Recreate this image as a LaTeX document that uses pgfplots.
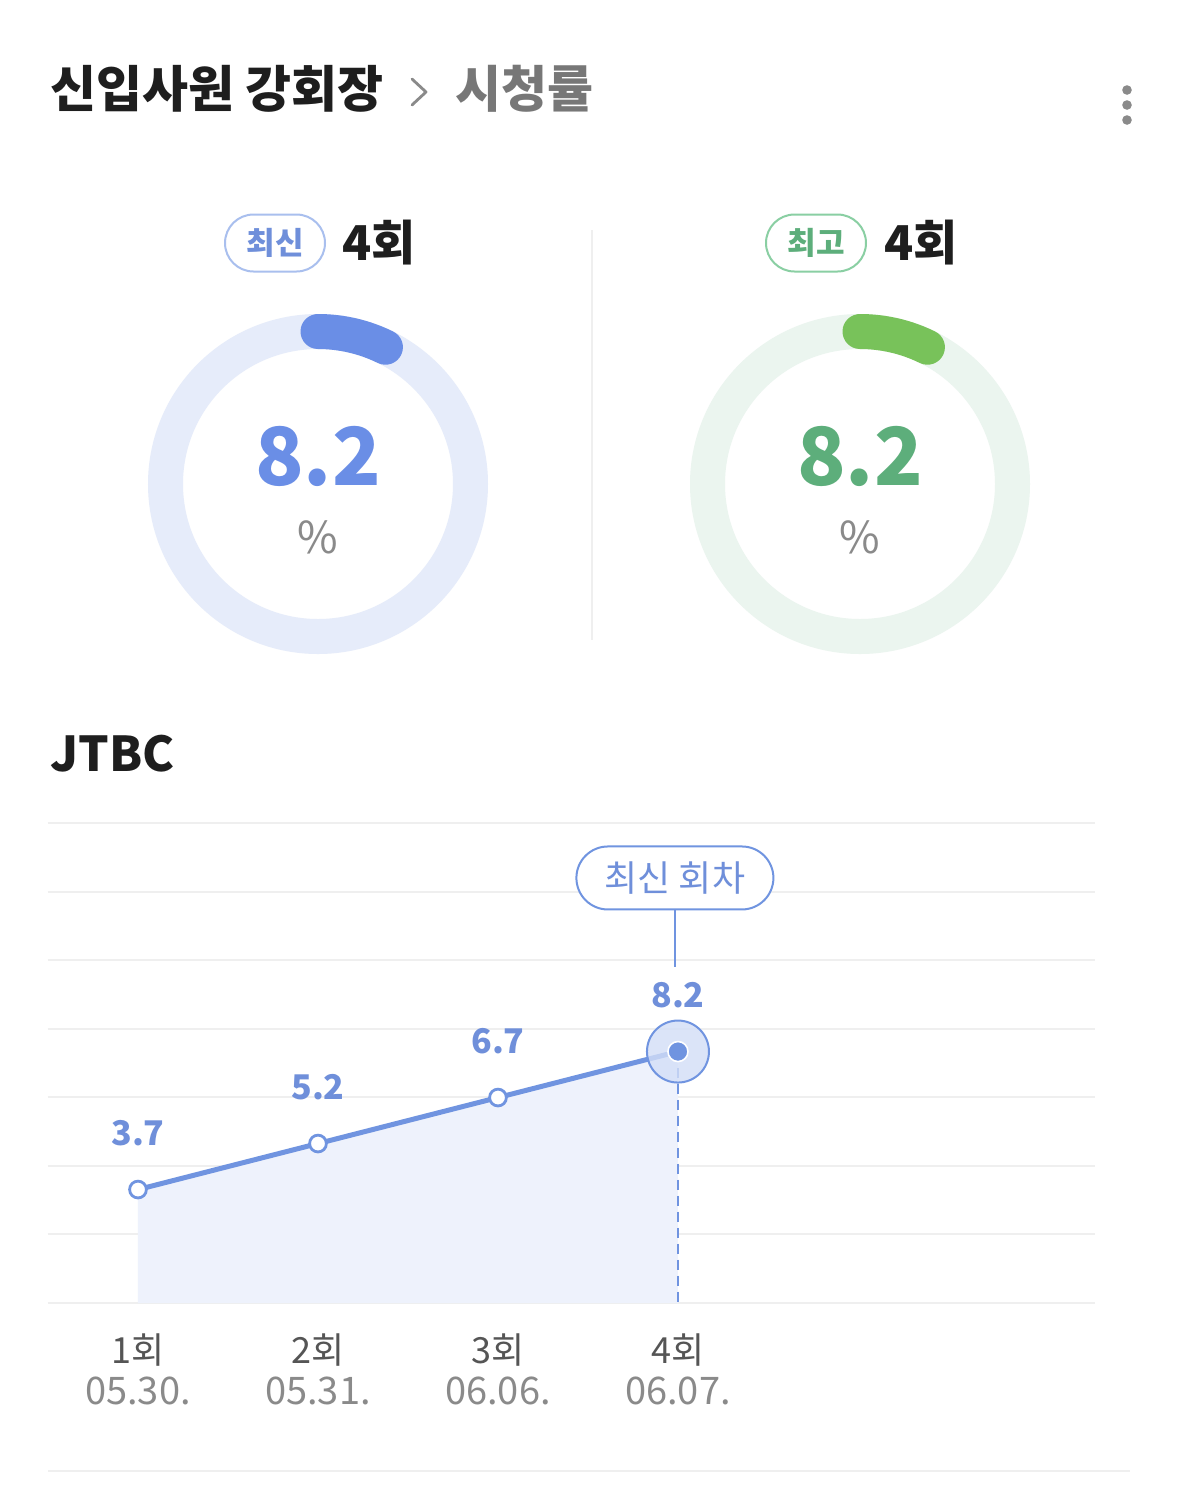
\documentclass[border=0pt]{standalone}
\usepackage{pgfplots}
\pgfplotsset{compat=1.18}
\usepackage{fontspec}
\setmainfont{Noto Sans CJK KR}
\definecolor{titleblack}{HTML}{1E1E1E}
\definecolor{subgray}{HTML}{777777}
\definecolor{dotgray}{HTML}{8A8A8A}
\definecolor{lineblue}{HTML}{7094E0}
\definecolor{valueblue}{HTML}{6F8FDA}
\definecolor{fillblue}{HTML}{EEF2FC}
\definecolor{haloblue}{HTML}{D3DEF7}
\definecolor{ringblue}{HTML}{E6ECFA}
\definecolor{arcblue}{HTML}{6A8EE6}
\definecolor{pillblue}{HTML}{A9BFEE}
\definecolor{ringgreen}{HTML}{EBF5EF}
\definecolor{arcgreen}{HTML}{78C25A}
\definecolor{textgreen}{HTML}{5DAE7B}
\definecolor{pillgreen}{HTML}{8ACFA3}
\definecolor{gridc}{HTML}{EFEFEF}
\definecolor{tickdark}{HTML}{555555}
\definecolor{tickgray}{HTML}{8A8A8A}
\def\latest{8.2}
\def\best{8.2}
\begin{document}
\begin{tikzpicture}
\begin{scope}[x=0.5pt,y=-0.5pt]
\fill[white] (0,0) rectangle (1179,1506);
% title
\node[anchor=west, inner sep=0, text=titleblack, font=\fontsize{25}{30}\selectfont\bfseries] at (50,89) {신입사원 강회장};
\draw[dotgray, line width=1.4pt, line cap=round, line join=round] (412,79) -- (426,92) -- (412,105);
\node[anchor=west, inner sep=0, text=subgray, font=\fontsize{25}{30}\selectfont\bfseries] at (455,89) {시청률};
\foreach \yy in {90,105,120} \fill[dotgray] (1127,\yy) circle (2.4pt);
% left gauge
\node[draw=pillblue, line width=1pt, rounded corners=14.25pt, minimum width=50pt, minimum height=28.5pt, inner sep=0, text=valueblue, font=\fontsize{15.5}{18}\selectfont\bfseries] at (275,243) {최신};
\node[anchor=west, inner sep=0, text=titleblack, font=\fontsize{24}{28}\selectfont\bfseries] at (342,243) {4회};
\draw[ringblue, line width=17.5pt] (318,484) circle (76.25pt);
\draw[arcblue, line width=17.5pt, line cap=round] (318,484) ++(90:76.25pt) arc[start angle=90, end angle={90-\latest*3.2}, radius=76.25pt];
\node[inner sep=0, text=arcblue, font=\fontsize{40}{46}\selectfont\bfseries] at (318,456) {8.2};
\node[inner sep=0, text=dotgray, font=\fontsize{22}{26}\selectfont] at (318,537) {\%};
% divider
\draw[gridc, line width=1pt] (592,230) -- (592,640);
% right gauge
\node[draw=pillgreen, line width=1pt, rounded corners=14.25pt, minimum width=50pt, minimum height=28.5pt, inner sep=0, text=textgreen, font=\fontsize{15.5}{18}\selectfont\bfseries] at (816,243) {최고};
\node[anchor=west, inner sep=0, text=titleblack, font=\fontsize{24}{28}\selectfont\bfseries] at (884,243) {4회};
\draw[ringgreen, line width=17.5pt] (860,484) circle (76.25pt);
\draw[arcgreen, line width=17.5pt, line cap=round] (860,484) ++(90:76.25pt) arc[start angle=90, end angle={90-\best*3.2}, radius=76.25pt];
\node[inner sep=0, text=textgreen, font=\fontsize{40}{46}\selectfont\bfseries] at (860,456) {8.2};
\node[inner sep=0, text=dotgray, font=\fontsize{22}{26}\selectfont] at (860,537) {\%};
% JTBC
\node[anchor=west, inner sep=0, text=titleblack, font=\fontsize{24}{28}\selectfont\bfseries] at (50,754) {JTBC};
% bottom rule
\draw[gridc, line width=1pt] (48,1471) -- (1130,1471);
\end{scope}
\begin{axis}[
  at={(24pt,-651.5pt)}, anchor=south west,
  scale only axis, width=523.5pt, height=240pt,
  xmin=0.5, xmax=6.317, ymin=0, ymax=15.652,
  ytick={0,2.236,4.472,6.708,8.944,11.18,13.416,15.652},
  yticklabels={},
  ymajorgrids, grid style={color=gridc, line width=1pt},
  axis line style={draw=none},
  major tick length=0pt,
  xtick={1,2,3,4},
  xticklabels={{\textcolor{tickdark}{1회}\\[-2pt]{\fontsize{19}{22}\selectfont\textcolor{tickgray}{05.30.}}},
               {\textcolor{tickdark}{2회}\\[-2pt]{\fontsize{19}{22}\selectfont\textcolor{tickgray}{05.31.}}},
               {\textcolor{tickdark}{3회}\\[-2pt]{\fontsize{19}{22}\selectfont\textcolor{tickgray}{06.06.}}},
               {\textcolor{tickdark}{4회}\\[-2pt]{\fontsize{19}{22}\selectfont\textcolor{tickgray}{06.07.}}}},
  xticklabel style={align=center, anchor=north, inner sep=0pt, yshift=-15pt, font=\fontsize{18}{22.5}\selectfont},
  clip=false,
]
\addplot[draw=none, fill=fillblue] coordinates {(1,3.7) (2,5.2) (3,6.7) (4,8.2)} \closedcycle;
\draw[lineblue, line width=1pt, dash pattern=on 5pt off 3pt] (axis cs:4,8.2) -- (axis cs:4,0);
\addplot[only marks, mark=*, mark size=15.5pt, mark options={fill=haloblue, fill opacity=0.8, draw=lineblue, line width=1pt}] coordinates {(4,8.2)};
\addplot[lineblue, line width=2.5pt, mark=*, mark size=4.2pt, mark options={fill=white, draw=lineblue, line width=1.4pt},
  point meta=explicit symbolic,
  nodes near coords, nodes near coords style={anchor=center, yshift=28pt, text=valueblue, font=\fontsize{17}{20}\selectfont\bfseries}]
  coordinates {(1,3.7) [3.7] (2,5.2) [5.2] (3,6.7) [6.7] (4,8.2) [8.2]};
\addplot[only marks, mark=*, mark size=5pt, mark options={fill=lineblue, draw=white, line width=0.8pt}] coordinates {(4,8.2)};
\draw[lineblue, line width=1pt] (axis cs:3.983,12.81) -- (axis cs:3.983,10.96);
\node[draw=lineblue, line width=1pt, rounded corners=15.75pt, minimum width=98.5pt, minimum height=31.5pt, fill=white, text=valueblue, font=\fontsize{18}{22}\selectfont] at (axis cs:3.983,13.86) {최신 회차};
\end{axis}
\end{tikzpicture}
\end{document}
